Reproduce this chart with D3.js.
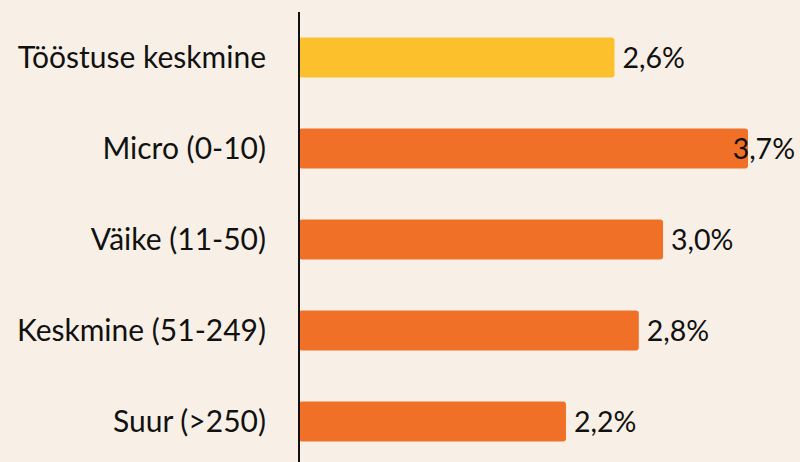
<!DOCTYPE html>
<html><head><meta charset="utf-8">
<script src="https://cdn.jsdelivr.net/npm/d3@7"></script>
<style>
html,body{margin:0;padding:0;background:#f8f0e6;}
svg{display:block;}
text{font-family:Lato,"Open Sans",sans-serif;fill:#111;}
</style></head>
<body>
<svg id="c" width="800" height="462"></svg>
<script>
const categories = ["Tööstuse keskmine","Micro (0-10)","Väike (11-50)","Keskmine (51-249)","Suur (>250)"];
const values = [2.6, 3.7, 3.0, 2.8, 2.2];
const valueLabels = ["2,6%","3,7%","3,0%","2,8%","2,2%"];
const colors = ["#fcc02c","#ef7026","#ef7026","#ef7026","#ef7026"];

const W = 800, H = 462;
const svg = d3.select("#c");
svg.append("rect").attr("width",W).attr("height",H).attr("fill","#f8f0e6");

const x0 = 299;
const x = d3.scaleLinear().domain([0, 3.7]).range([x0, 748]);
const y = d3.scaleBand().domain(categories).range([12, 467]).paddingInner(0.56).paddingOuter(0.28);

svg.selectAll("rect.bar").data(categories).enter().append("rect")
  .attr("class","bar")
  .attr("x", x(0))
  .attr("y", d => y(d))
  .attr("width", (d,i) => x(values[i]) - x(0))
  .attr("height", y.bandwidth())
  .attr("rx", 3)
  .attr("fill", (d,i) => colors[i]);

svg.append("line").attr("x1",x0).attr("x2",x0).attr("y1",12).attr("y2",H)
  .attr("stroke","#111").attr("stroke-width",2);

svg.selectAll("text.cat").data(categories).enter().append("text")
  .attr("class","cat")
  .attr("x", 266)
  .attr("y", d => y(d) + y.bandwidth()/2)
  .attr("dy","0.36em")
  .attr("text-anchor","end")
  .attr("font-size", 30)
  .text(d => d);

svg.selectAll("text.val").data(categories).enter().append("text")
  .attr("class","val")
  .attr("y", d => y(d) + y.bandwidth()/2)
  .attr("dy","0.36em")
  .attr("font-size", 28.5)
  .text((d,i) => valueLabels[i])
  .attr("x", function(d,i){
    const w = this.getComputedTextLength();
    return Math.min(x(values[i]) + 8, W - 5 - w);
  });
</script>
</body></html>
